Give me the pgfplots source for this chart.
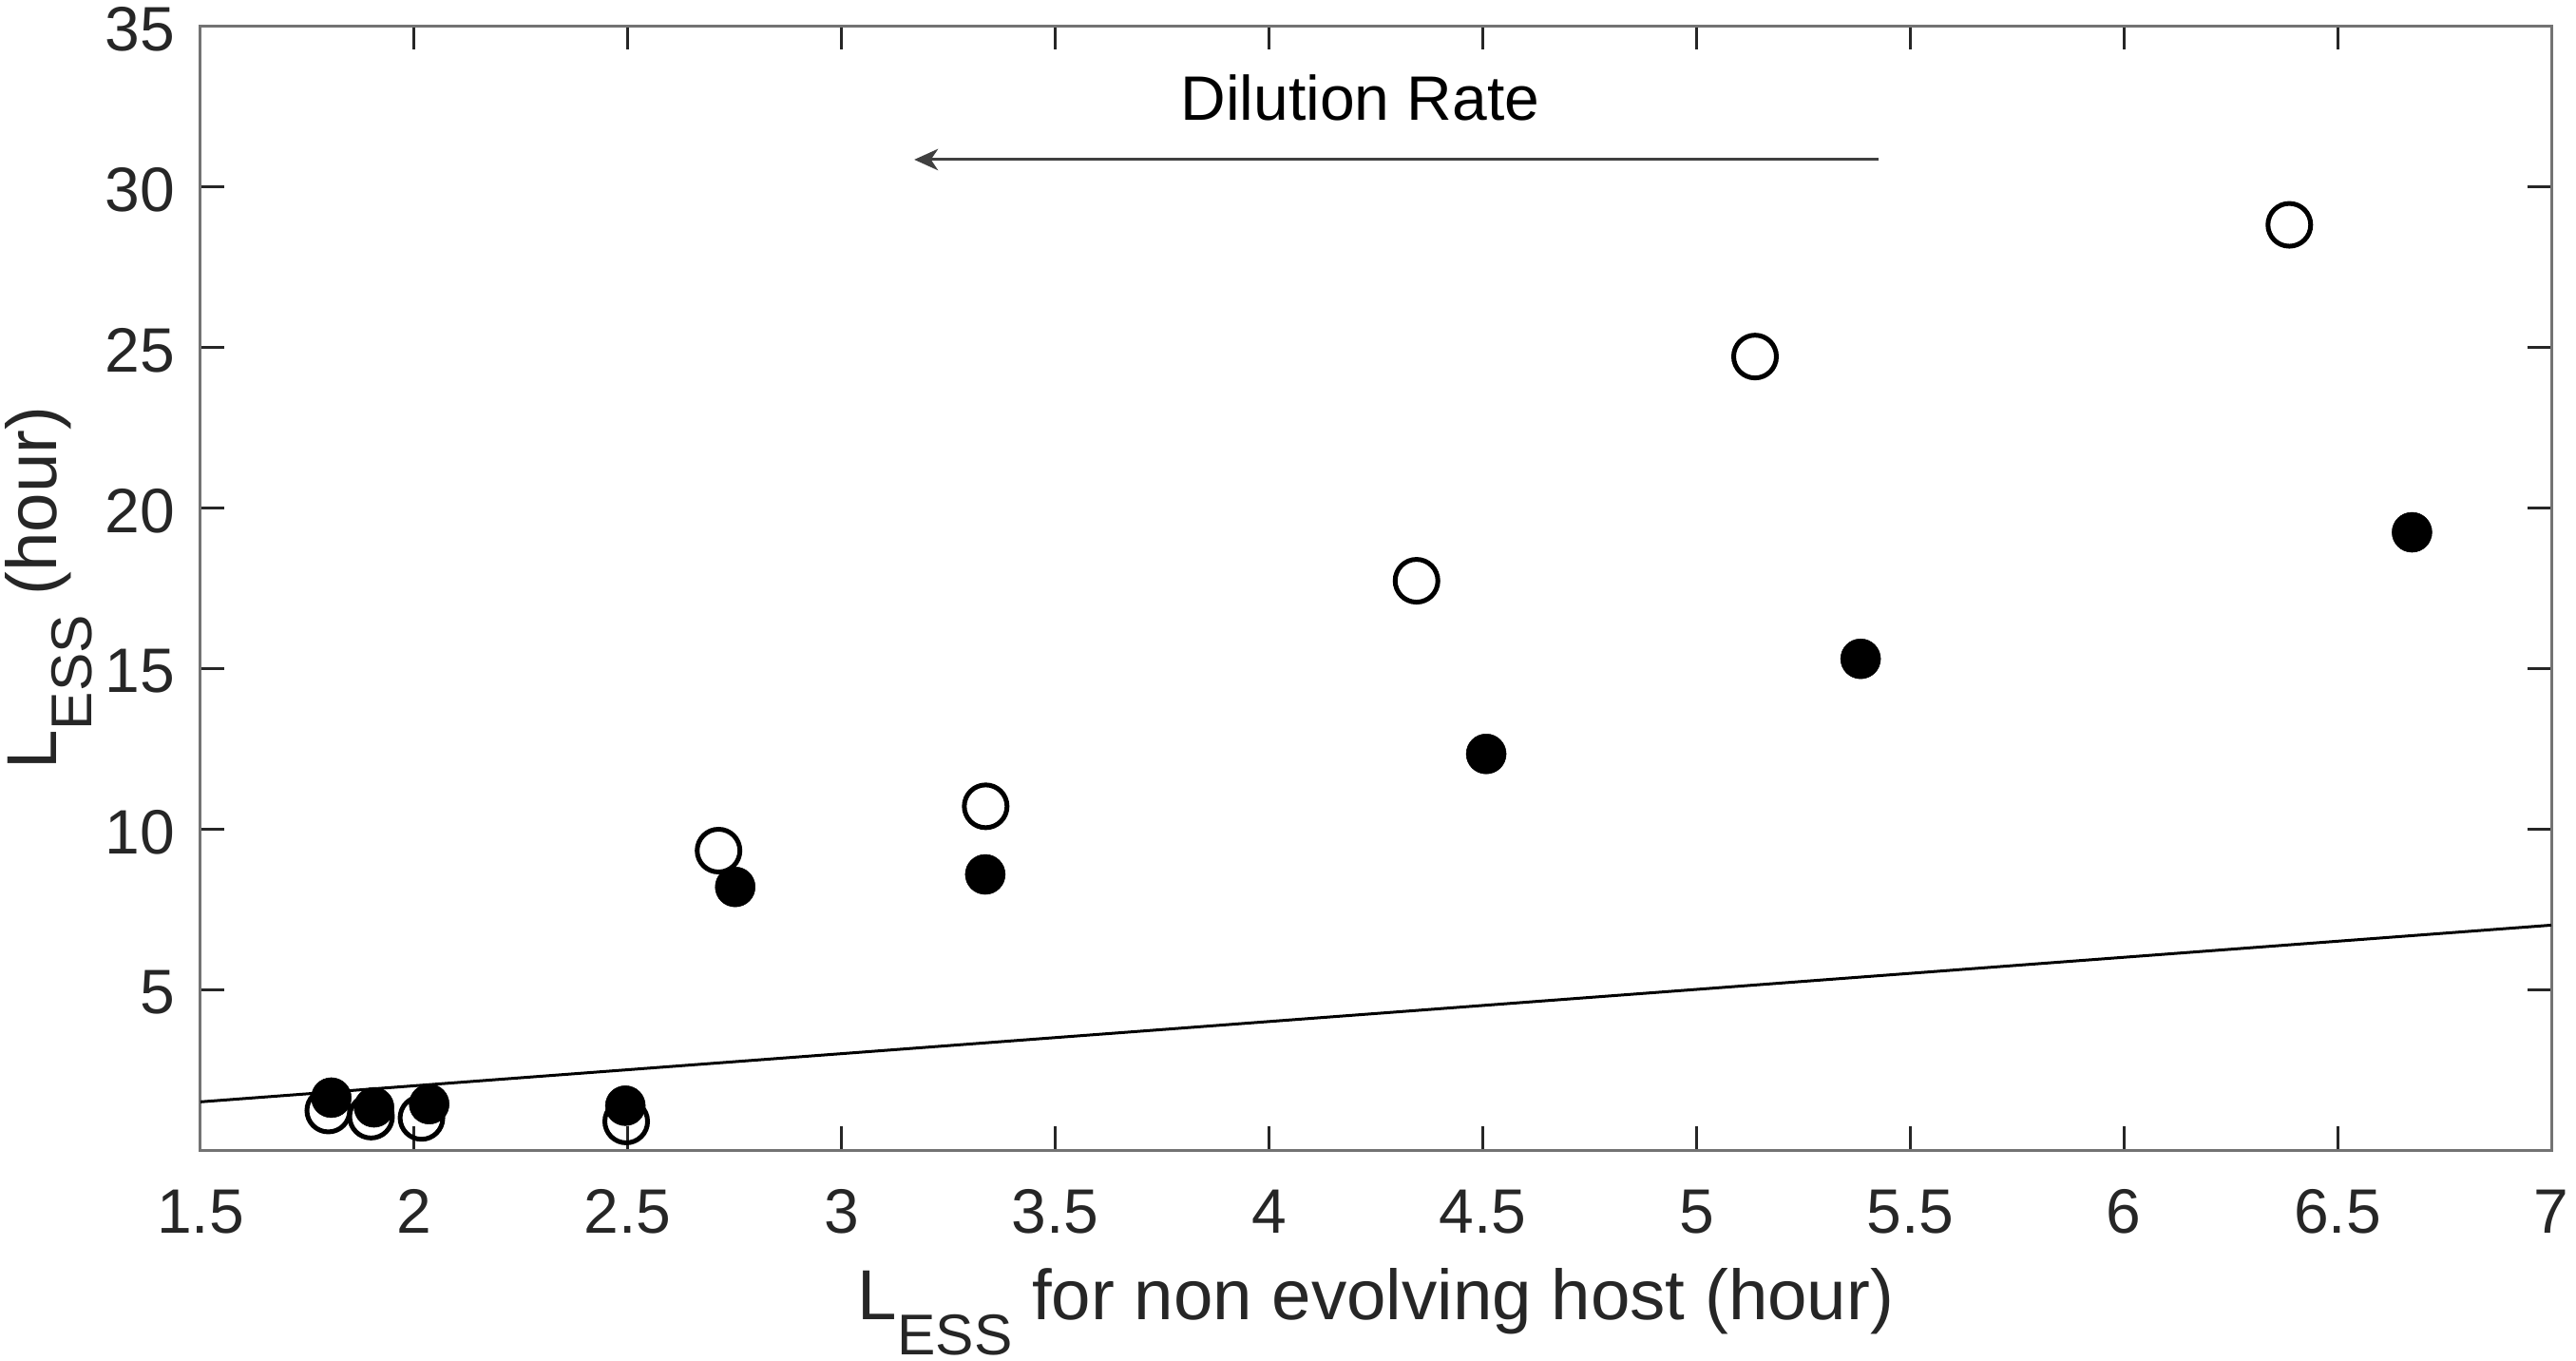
\documentclass[border=0pt]{standalone}
\usepackage{fontspec}
\setmainfont{Liberation Sans}
\usepackage{pgfplots}
\pgfplotsset{compat=1.18}
\usetikzlibrary{arrows.meta}

\newcommand{\sub}[1]{\raisebox{-7.4bp}{\fontsize{12.1bp}{14bp}\selectfont #1}}

\begin{document}
\begin{tikzpicture}
\begin{axis}[
 name=ax,
 scale only axis,
 width=494.8bp, height=236.6bp,
 xmin=1.5, xmax=7, ymin=0, ymax=35,
 xtick={1.5,2,2.5,3,3.5,4,4.5,5,5.5,6,6.5,7},
 ytick={5,10,15,20,25,30,35},
 tick align=inside,
 major tick length=5bp,
 axis line style={black!55, line width=0.6bp},
 tick style={black!85, line width=0.6bp},
 tick label style={font=\fontsize{13.2bp}{15bp}\selectfont, text=black!85},
 xticklabel style={anchor=base, yshift=-17.4bp},
 yticklabel style={anchor=east, inner sep=0pt, xshift=-5.2bp, yshift=-0.7bp},
 label style={font=\fontsize{14.9bp}{17bp}\selectfont, text=black!85},
 xlabel style={at={(axis description cs:0.5,-0.15046)}, anchor=base},
 ylabel style={at={(axis description cs:-0.06103,0.5)}, anchor=base, rotate=0},
 /pgf/number format/assume math mode=true,
 xlabel={L\sub{ESS} for non evolving host (hour)},
 ylabel={L\sub{ESS} (hour)},
]
\addplot[black, line width=0.6bp] coordinates {(1.5,1.5) (7,7)};
\addplot[only marks, mark=o, mark size=4.5bp, mark options={line width=1bp, draw=black}] coordinates {
 (1.799,1.23) (1.899,1.04) (2.017,1.00) (2.496,0.89) (2.712,9.32)
 (3.337,10.70) (4.345,17.72) (5.137,24.70) (6.387,28.80)};
\addplot[only marks, mark=*, mark size=4.2bp, mark options={fill=black, draw=black, line width=0.1bp}] coordinates {
 (1.806,1.63) (1.906,1.33) (2.035,1.43) (2.494,1.38) (2.751,8.19)
 (3.336,8.58) (4.508,12.33) (5.384,15.29) (6.674,19.23)};
\draw[black!75, line width=0.6bp, -{Stealth[length=5bp,width=4.5bp,inset=1.5bp]}] (axis cs:5.427,30.83) -- (axis cs:3.17,30.83);
\node[font=\fontsize{13.2bp}{15bp}\selectfont, text=black] at (axis cs:4.213,32.75) {Dilution Rate};
\end{axis}
\pgfresetboundingbox
\path[use as bounding box] ([xshift=-42.2bp,yshift=-44.2bp]ax.south west) rectangle ([xshift=5.2bp,yshift=5.4bp]ax.north east);
\end{tikzpicture}
\end{document}
